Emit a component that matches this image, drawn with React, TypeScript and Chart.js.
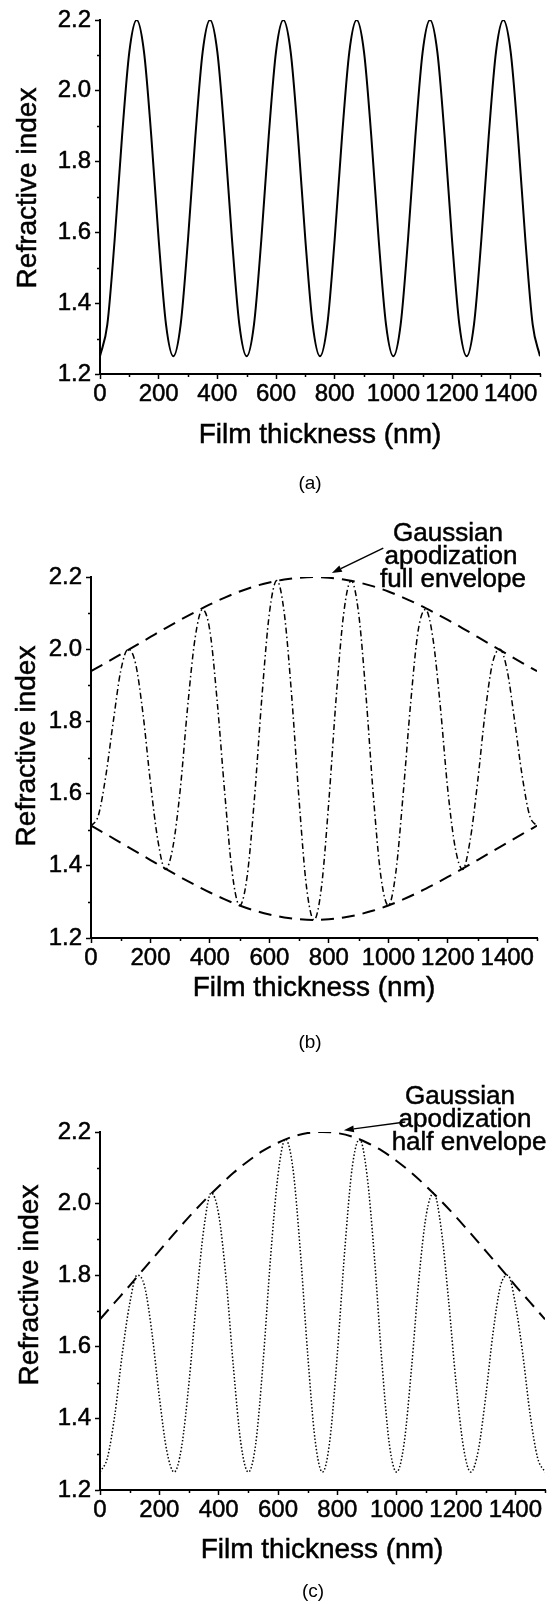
import React, { useEffect, useRef } from "react";
import { Chart, registerables } from "chart.js";

Chart.register(...registerables);

// ---------- data ----------
const THICKNESS = [
  0, 25, 50, 75, 100, 125, 150, 175, 200, 225,
  250, 275, 300, 325, 350, 375, 400, 425, 450, 475,
  500, 525, 550, 575, 600, 625, 650, 675, 700, 725,
  750, 775, 800, 825, 850, 875, 900, 925, 950, 975,
  1000, 1025, 1050, 1075, 1100, 1125, 1150, 1175, 1200, 1225,
  1250, 1275, 1300, 1325, 1350, 1375, 1400, 1425, 1450, 1475,
  1500,
];

// (a) uniform grating
const UNIFORM_INDEX = [
  1.25, 1.34, 1.58, 1.87, 2.11, 2.2, 2.11, 1.87, 1.58, 1.34,
  1.25, 1.34, 1.58, 1.87, 2.11, 2.2, 2.11, 1.87, 1.58, 1.34,
  1.25, 1.34, 1.58, 1.87, 2.11, 2.2, 2.11, 1.87, 1.58, 1.34,
  1.25, 1.34, 1.58, 1.87, 2.11, 2.2, 2.11, 1.87, 1.58, 1.34,
  1.25, 1.34, 1.58, 1.87, 2.11, 2.2, 2.11, 1.87, 1.58, 1.34,
  1.25, 1.34, 1.58, 1.87, 2.11, 2.2, 2.11, 1.87, 1.58, 1.34,
  1.25,
];

// (b) Gaussian apodization, full envelope
const FULL_APOD_INDEX = [
  1.51, 1.54, 1.65, 1.8, 1.94, 2.0, 1.96, 1.82, 1.63, 1.47,
  1.39, 1.45, 1.61, 1.84, 2.03, 2.11, 2.05, 1.85, 1.6, 1.38,
  1.29, 1.37, 1.59, 1.87, 2.1, 2.19, 2.1, 1.87, 1.58, 1.34,
  1.25, 1.34, 1.58, 1.87, 2.1, 2.19, 2.1, 1.87, 1.59, 1.37,
  1.29, 1.38, 1.6, 1.85, 2.05, 2.11, 2.03, 1.84, 1.61, 1.45,
  1.39, 1.47, 1.63, 1.82, 1.96, 2.0, 1.94, 1.8, 1.65, 1.54,
  1.51,
];

// (c) Gaussian apodization, half envelope
const HALF_APOD_INDEX = [
  1.25, 1.29, 1.41, 1.58, 1.72, 1.8, 1.77, 1.64, 1.46, 1.31,
  1.25, 1.32, 1.5, 1.73, 1.93, 2.03, 1.97, 1.79, 1.54, 1.33,
  1.25, 1.33, 1.56, 1.85, 2.08, 2.18, 2.1, 1.87, 1.58, 1.34,
  1.25, 1.34, 1.58, 1.87, 2.1, 2.18, 2.08, 1.85, 1.56, 1.33,
  1.25, 1.33, 1.54, 1.79, 1.97, 2.03, 1.93, 1.73, 1.5, 1.32,
  1.25, 1.31, 1.46, 1.64, 1.77, 1.8, 1.72, 1.58, 1.41, 1.29,
  1.25,
];

const ENVELOPE_THICKNESS = [
  0, 50, 100, 150, 200, 250, 300, 350, 400, 450,
  500, 550, 600, 650, 700, 750, 800, 850, 900, 950,
  1000, 1050, 1100, 1150, 1200, 1250, 1300, 1350, 1400, 1450,
  1500,
];

const FULL_UPPER = [
  1.939, 1.962, 1.986, 2.01, 2.034, 2.058, 2.081, 2.103, 2.124, 2.143,
  2.16, 2.174, 2.185, 2.193, 2.198, 2.2, 2.198, 2.193, 2.185, 2.174,
  2.16, 2.143, 2.124, 2.103, 2.081, 2.058, 2.034, 2.01, 1.986, 1.962,
  1.939,
];

const FULL_LOWER = [
  1.511, 1.488, 1.464, 1.44, 1.416, 1.392, 1.369, 1.347, 1.326, 1.307,
  1.29, 1.276, 1.265, 1.257, 1.252, 1.25, 1.252, 1.257, 1.265, 1.276,
  1.29, 1.307, 1.326, 1.347, 1.369, 1.392, 1.416, 1.44, 1.464, 1.488,
  1.511,
];

const HALF_UPPER = [
  1.677, 1.724, 1.771, 1.82, 1.868, 1.916, 1.963, 2.007, 2.048, 2.086,
  2.119, 2.148, 2.17, 2.187, 2.197, 2.2, 2.197, 2.187, 2.17, 2.148,
  2.119, 2.086, 2.048, 2.007, 1.963, 1.916, 1.868, 1.82, 1.771, 1.724,
  1.677,
];

const X_MINOR_TICKS = [100, 300, 500, 700, 900, 1100, 1300, 1500];
const Y_MINOR_TICKS = [1.3, 1.5, 1.7, 1.9, 2.1];

const X_LABEL = "Film thickness (nm)";
const Y_LABEL = "Refractive index";
const ANNOT_FULL = ["Gaussian", "apodization", "full envelope"];
const ANNOT_HALF = ["Gaussian", "apodization", "half envelope"];
const CAPTIONS = ["(a)", "(b)", "(c)"];

// ---------- styling / layout ----------
const FONT = '"Liberation Sans", Arial, Helvetica, sans-serif';
const W = 552;
const X_AXIS_H = 40;
const TEXT_STROKE = 0.5;

const pts = (xs: number[], ys: number[]) => xs.map((x, i) => ({ x, y: ys[i] }));

const lineDs = (xs: number[], ys: number[], width: number, dash: number[]) => ({
  data: pts(xs, ys),
  borderColor: "#000",
  borderWidth: width,
  borderDash: dash,
  pointRadius: 0,
  fill: false,
  cubicInterpolationMode: "monotone" as const,
});

interface Annotation {
  lines: string[];
  xs: number[];
  ys: number[];
  tail: [number, number];
  tip: [number, number];
}

interface PanelCfg {
  top: number;
  height: number;
  area: { left: number; right: number; top: number; bottom: number };
  datasets: any[];
  yTitle: [number, number];
  xTitle: [number, number];
  caption: [number, number];
  captionText: string;
  annotation?: Annotation;
}

const PANELS: PanelCfg[] = [
  {
    top: 0,
    height: 520,
    area: { left: 100, right: 540, top: 20, bottom: 374 },
    datasets: [lineDs(THICKNESS, UNIFORM_INDEX, 2, [])],
    yTitle: [28, 188],
    xTitle: [320, 435],
    caption: [310, 484],
    captionText: CAPTIONS[0],
  },
  {
    top: 520,
    height: 540,
    area: { left: 91, right: 537, top: 57, bottom: 418 },
    datasets: [
      lineDs(THICKNESS, FULL_APOD_INDEX, 1.5, [6, 3, 1.5, 3]),
      lineDs(ENVELOPE_THICKNESS, FULL_UPPER, 2, [13, 8]),
      lineDs(ENVELOPE_THICKNESS, FULL_LOWER, 2, [13, 8]),
    ],
    yTitle: [27, 226],
    xTitle: [314, 468],
    caption: [310, 523],
    captionText: CAPTIONS[1],
    annotation: {
      lines: ANNOT_FULL,
      xs: [448, 451, 453],
      ys: [14, 37, 60],
      tail: [983, 2.28],
      tip: [810, 2.211],
    },
  },
  {
    top: 1060,
    height: 544,
    area: { left: 100, right: 545, top: 72, bottom: 430 },
    datasets: [
      lineDs(THICKNESS, HALF_APOD_INDEX, 1.5, [1.5, 2]),
      lineDs(ENVELOPE_THICKNESS, HALF_UPPER, 2, [13, 8]),
    ],
    yTitle: [30, 225],
    xTitle: [322, 490],
    caption: [313, 532],
    captionText: CAPTIONS[2],
    annotation: {
      lines: ANNOT_HALF,
      xs: [460, 465, 469],
      ys: [37, 60, 83],
      tail: [1029, 2.228],
      tip: [822, 2.205],
    },
  },
];

function drawText(ctx: CanvasRenderingContext2D, t: string, x: number, y: number) {
  ctx.fillText(t, x, y);
  ctx.strokeText(t, x, y);
}

function Panel({ cfg }: { cfg: PanelCfg }) {
  const ref = useRef<HTMLCanvasElement>(null);

  useEffect(() => {
    const canvas = ref.current;
    if (!canvas) return;
    const a = cfg.area;

    const extras = {
      id: "extras",
      afterDraw(chart: any) {
        const ctx = chart.ctx as CanvasRenderingContext2D;
        const xs = chart.scales.x;
        const ys = chart.scales.y;
        const ca = chart.chartArea;
        ctx.save();
        // minor ticks
        ctx.strokeStyle = "#000";
        ctx.lineWidth = 1.5;
        ctx.beginPath();
        X_MINOR_TICKS.forEach((v) => {
          const px = Math.round(xs.getPixelForValue(v)) + 0.5;
          ctx.moveTo(px, ca.bottom);
          ctx.lineTo(px, ca.bottom + 3);
        });
        Y_MINOR_TICKS.forEach((v) => {
          const py = Math.round(ys.getPixelForValue(v)) + 0.5;
          ctx.moveTo(ca.left, py);
          ctx.lineTo(ca.left - 3, py);
        });
        ctx.stroke();

        ctx.fillStyle = "#000";
        ctx.textAlign = "center";
        ctx.textBaseline = "middle";
        ctx.lineWidth = TEXT_STROKE;

        // axis titles
        ctx.font = `28px ${FONT}`;
        drawText(ctx, X_LABEL, cfg.xTitle[0], cfg.xTitle[1]);
        ctx.save();
        ctx.translate(cfg.yTitle[0], cfg.yTitle[1]);
        ctx.rotate(-Math.PI / 2);
        drawText(ctx, Y_LABEL, 0, 0);
        ctx.restore();

        // caption
        ctx.font = `19px ${FONT}`;
        ctx.fillText(cfg.captionText, cfg.caption[0], cfg.caption[1]);

        // annotation
        const an = cfg.annotation;
        if (an) {
          ctx.font = `26px ${FONT}`;
          an.lines.forEach((t, i) => drawText(ctx, t, an.xs[i], an.ys[i]));
          const x0 = xs.getPixelForValue(an.tail[0]);
          const y0 = ys.getPixelForValue(an.tail[1]);
          const x1 = xs.getPixelForValue(an.tip[0]);
          const y1 = ys.getPixelForValue(an.tip[1]);
          const ang = Math.atan2(y1 - y0, x1 - x0);
          const hl = 10;
          const hw = 3.5;
          const bx = x1 - hl * Math.cos(ang);
          const by = y1 - hl * Math.sin(ang);
          ctx.lineWidth = 1.5;
          ctx.beginPath();
          ctx.moveTo(x0, y0);
          ctx.lineTo(bx, by);
          ctx.stroke();
          ctx.beginPath();
          ctx.moveTo(x1, y1);
          ctx.lineTo(bx + hw * Math.sin(ang), by - hw * Math.cos(ang));
          ctx.lineTo(bx - hw * Math.sin(ang), by + hw * Math.cos(ang));
          ctx.closePath();
          ctx.fill();
        }
        ctx.restore();
      },
    };

    const tickFont = { family: FONT, size: 24, lineHeight: 1 };

    const chart = new Chart(canvas, {
      type: "line",
      data: { datasets: cfg.datasets },
      options: {
        responsive: false,
        animation: false,
        devicePixelRatio: 1,
        layout: {
          padding: {
            left: 0,
            top: a.top,
            right: W - a.right,
            bottom: cfg.height - a.bottom - X_AXIS_H,
          },
        },
        plugins: {
          legend: { display: false },
          tooltip: { enabled: false },
          title: { display: false },
        },
        elements: { point: { radius: 0 } },
        scales: {
          x: {
            type: "linear",
            min: 0,
            max: 1500,
            afterFit: (s: any) => {
              s.height = X_AXIS_H;
            },
            ticks: {
              stepSize: 200,
              includeBounds: false,
              autoSkip: false,
              maxRotation: 0,
              color: "#000",
              font: tickFont,
              padding: 3,
              textStrokeColor: "#000",
              textStrokeWidth: TEXT_STROKE,
              callback: (v: any) => String(v),
            },
            grid: {
              drawOnChartArea: false,
              drawTicks: true,
              tickLength: 5,
              tickWidth: 1.5,
              tickColor: "#000",
            },
            border: { display: true, color: "#000", width: 2 },
          },
          y: {
            type: "linear",
            min: 1.2,
            max: 2.2,
            afterFit: (s: any) => {
              s.width = a.left;
            },
            ticks: {
              stepSize: 0.2,
              autoSkip: false,
              color: "#000",
              font: tickFont,
              padding: 4,
              textStrokeColor: "#000",
              textStrokeWidth: TEXT_STROKE,
              callback: (v: any) => Number(v).toFixed(1),
            },
            grid: {
              drawOnChartArea: false,
              drawTicks: true,
              tickLength: 5,
              tickWidth: 1.5,
              tickColor: "#000",
            },
            border: { display: true, color: "#000", width: 2 },
          },
        },
      } as any,
      plugins: [extras],
    });

    return () => chart.destroy();
  }, [cfg]);

  return (
    <canvas
      ref={ref}
      width={W}
      height={cfg.height}
      style={{
        position: "absolute",
        left: 0,
        top: cfg.top,
        width: W,
        height: cfg.height,
        display: "block",
      }}
    />
  );
}

export default function App() {
  return (
    <div
      style={{
        position: "absolute",
        left: 0,
        top: 0,
        width: W,
        height: 1604,
        background: "#fff",
        overflow: "hidden",
      }}
    >
      {PANELS.map((p, i) => (
        <Panel key={i} cfg={p} />
      ))}
    </div>
  );
}
